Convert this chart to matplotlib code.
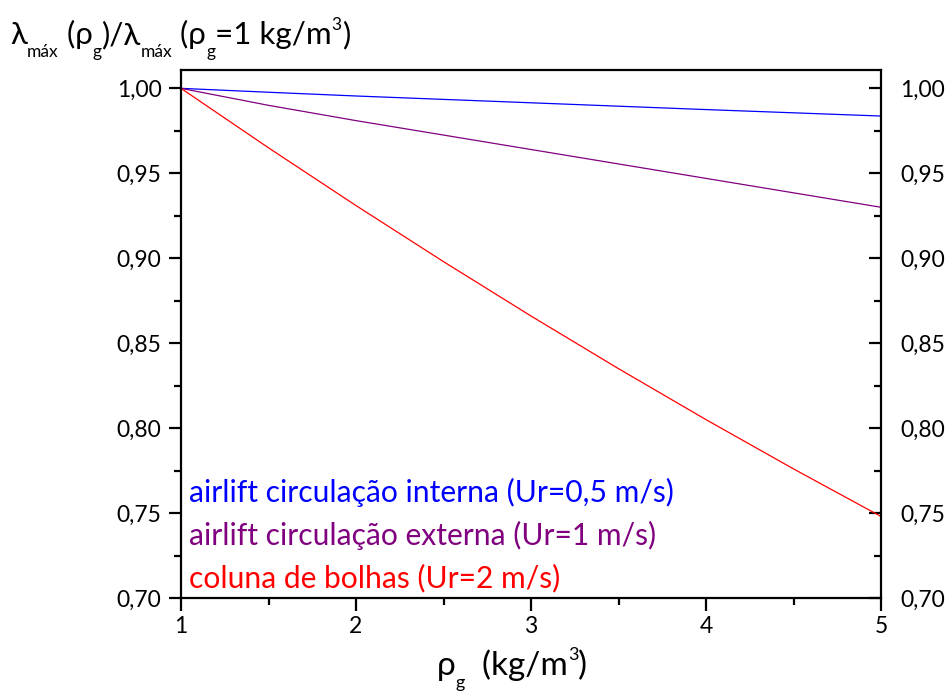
import matplotlib
matplotlib.use("Agg")
import matplotlib.pyplot as plt
from matplotlib.ticker import MultipleLocator, FuncFormatter

plt.rcParams['font.family'] = ['Lato', 'DejaVu Sans']

rho_g = [1.0, 1.5, 2.0, 2.5, 3.0, 3.5, 4.0, 4.5, 5.0]
interna = [1.000, 0.9977, 0.9955, 0.9935, 0.9915, 0.9895, 0.9875, 0.9856, 0.9837]
externa = [1.000, 0.9900, 0.9810, 0.9725, 0.9640, 0.9555, 0.9470, 0.9385, 0.9300]
bolhas = [1.000, 0.965, 0.931, 0.898, 0.866, 0.835, 0.805, 0.776, 0.748]

labels = ["airlift circulação interna (Ur=0,5 m/s)",
          "airlift circulação externa (Ur=1 m/s)",
          "coluna de bolhas (Ur=2 m/s)"]
colors = ["#0000ff", "#800080", "#ff0000"]

W, H = 947, 691
fig = plt.figure(figsize=(W/100, H/100), dpi=100)
ax = fig.add_axes([181/W, 1-598/H, 700/W, 528/H])

for y, c in zip([interna, externa, bolhas], colors):
    ax.plot(rho_g, y, color=c, lw=0.9)

ax.set_xlim(1, 5)
ax.set_ylim(0.70, 1.0108)
ax.xaxis.set_major_locator(MultipleLocator(1))
ax.xaxis.set_minor_locator(MultipleLocator(0.5))
ax.yaxis.set_major_locator(MultipleLocator(0.05))
ax.yaxis.set_minor_locator(MultipleLocator(0.025))
ax.yaxis.set_major_formatter(FuncFormatter(lambda v, p: f"{v:.2f}".replace('.', ',')))

for s in ax.spines.values():
    s.set_linewidth(1.6)

ax.tick_params(axis='x', which='major', direction='out', length=9, width=1.6, labelsize=16.5, top=False, pad=4)
ax.tick_params(axis='x', which='minor', direction='out', length=5, width=1.6, top=False)
ax.tick_params(axis='y', which='major', direction='out', length=9, width=1.6, labelsize=16.5,
               right=True, labelright=True, pad=5)
ax.tick_params(axis='y', which='minor', direction='out', length=5, width=1.6, right=True)

for t in ax.yaxis.get_major_ticks() + ax.yaxis.get_minor_ticks():
    t.tick2line.set_marker(matplotlib.lines.TICKLEFT)

ypos = [(598-492)/528, (598-535)/528, (598-578)/528]
for lab, c, yp in zip(labels, colors, ypos):
    ax.text(8/700, yp, lab, color=c, fontsize=21.6, transform=ax.transAxes, va='center', ha='left')

renderer = fig.canvas.get_renderer()


def seq_text(x_px, base_px, segs):
    x = x_px
    for s, size, dy in segs:
        t = fig.text(x/W, 1-(base_px - dy)/H, s, fontsize=size, va='baseline', ha='left')
        bb = t.get_window_extent(renderer)
        x += bb.width
    return x

M, S = 22.5, 12.5
seq_text(10, 44, [("λ", M, 0), ("máx", S, -13), (" (ρ", M, 0), ("g", S, -13),
                  (")/λ", M, 0), ("máx", S, -13), (" (ρ", M, 0), ("g", S, -13),
                  ("=1 kg/m", M, 0), ("3", S, 14), (")", M, 0)])
seq_text(437, 675, [("ρ", 24, 0), ("g", 13, -13), ("  (kg/m", 24, 0), ("3", 13, 15), (")", 24, 0)])

fig.savefig("out.png", dpi=100)
